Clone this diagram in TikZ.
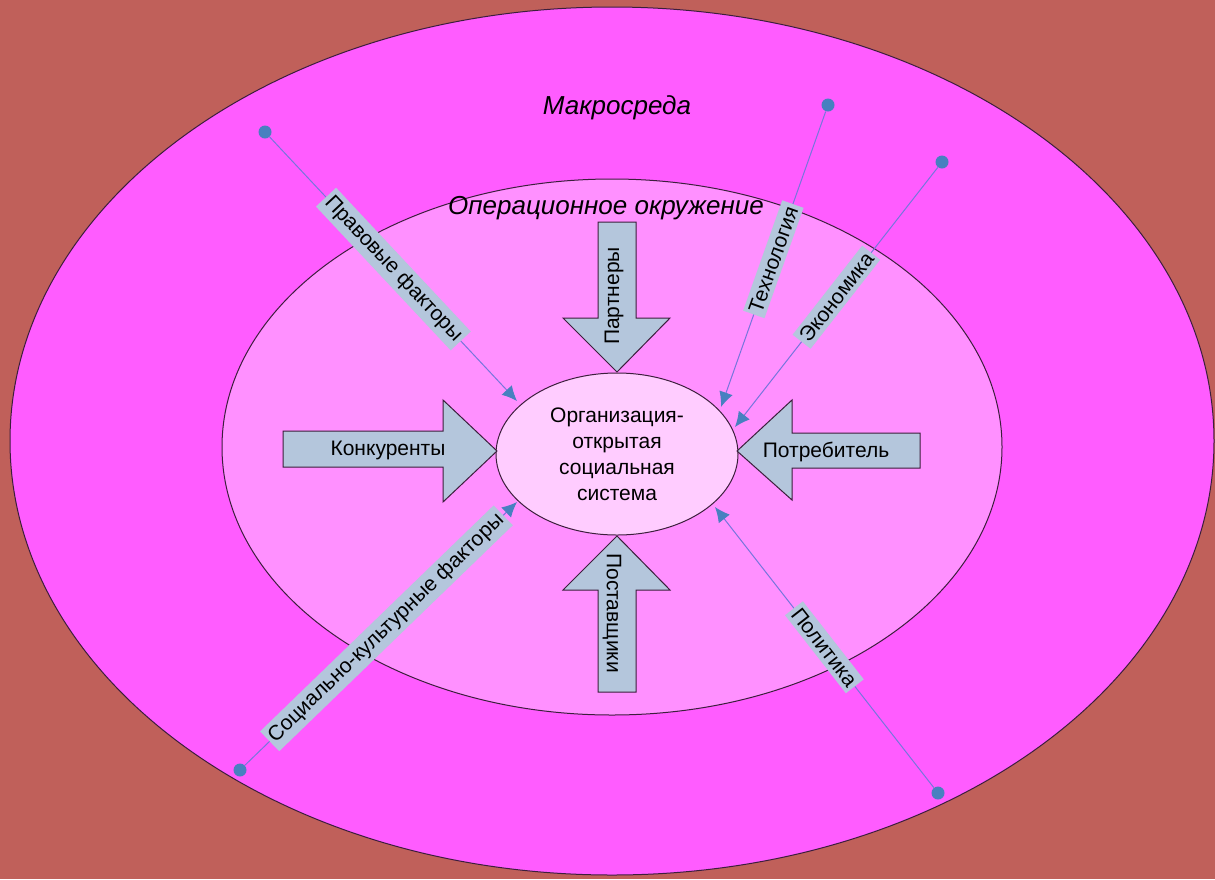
\documentclass[tikz,border=0pt]{standalone}
\usepackage{fontspec}
\setmainfont{Liberation Sans}
\usetikzlibrary{arrows.meta,shapes.geometric}
\definecolor{bgc}{RGB}{192,96,90}
\definecolor{outerc}{RGB}{255,92,255}
\definecolor{innerc}{RGB}{255,144,255}
\definecolor{orgc}{RGB}{255,204,255}
\definecolor{blockc}{RGB}{180,198,220}
\definecolor{dotc}{RGB}{72,128,192}
\definecolor{linec}{RGB}{118,118,220}
\definecolor{edgec}{RGB}{60,30,60}
\begin{document}
\begin{tikzpicture}[x=0.5pt,y=-0.5pt,
  zone/.style={draw=edgec,line width=0.5pt},
  blockarrow/.style={draw=edgec,line width=0.5pt,fill=blockc},
  blocktext/.style={font=\fontsize{10.5}{12}\selectfont,inner sep=0pt},
  title/.style={font=\fontsize{13}{15}\selectfont\itshape,inner sep=0pt},
  dotnode/.style={circle,fill=dotc,inner sep=0pt,minimum size=6.5pt},
  conn/.style={draw=linec,line width=0.5pt,
    arrows={-{Latex[length=7.5pt,width=7pt,color=dotc]}}},
  lbl/.style={fill=blockc,font=\fontsize{10.5}{12}\selectfont,inner xsep=1.5pt,inner ysep=2pt,sloped}]
\fill[bgc] (0,0) rectangle (1215,879);
\useasboundingbox (0,0) rectangle (1215,879);
% zones
\draw[zone,fill=outerc] (612,441) ellipse [x radius=301pt, y radius=217pt];
\draw[zone,fill=innerc] (612,447) ellipse [x radius=195pt, y radius=134pt];
\node[title] (macro) at (617,108) {Макросреда};
\node[title] (oper) at (606,208) {Операционное окружение};
% center
\node[ellipse,draw=edgec,line width=0.5pt,fill=orgc,minimum width=121pt,minimum height=81pt,inner sep=0pt,
  align=center,font=\fontsize{10.5}{13}\selectfont] (org) at (617,454)
  {Организация-\\открытая\\социальная\\система};
% block arrows
\draw[blockarrow] (598,222) -- (636,222) -- (636,318) -- (670,318) -- (617,372) -- (563,318) -- (598,318) -- cycle;
\node[blocktext,rotate=90] (partn) at (614,296) {Партнеры};
\draw[blockarrow] (598,692) -- (636,692) -- (636,590) -- (670,590) -- (617,536) -- (563,590) -- (598,590) -- cycle;
\node[blocktext,rotate=-90] (supp) at (612,613) {Поставщики};
\draw[blockarrow] (283,431) -- (443,431) -- (443,400) -- (497,451) -- (443,502) -- (443,467) -- (283,467) -- cycle;
\node[blocktext] (comp) at (388,450) {Конкуренты};
\draw[blockarrow] (920,433) -- (792,433) -- (792,400) -- (737,451) -- (792,500) -- (792,468) -- (920,468) -- cycle;
\node[blocktext] (cons) at (826,452) {Потребитель};
% factor connectors
\node[dotnode] (d1) at (265,132) {};
\node[dotnode] (d2) at (828,105) {};
\node[dotnode] (d3) at (942,162) {};
\node[dotnode] (d4) at (240,770) {};
\node[dotnode] (d5) at (938,793) {};
\coordinate (t1) at (517,401);
\coordinate (t2) at (721,407);
\coordinate (t3) at (735,427);
\coordinate (t4) at (517,502);
\coordinate (t5) at (715,507);
\draw[conn] (d1) -- node[lbl,pos=0.5] (l1) {Правовые факторы} (t1);
\draw[conn] (d2) -- node[lbl,pos=0.5] (l2) {Технология} (t2);
\draw[conn] (d3) -- node[lbl,pos=0.5] (l3) {Экономика} (t3);
\draw[conn] (d4) -- node[lbl,pos=0.52] (l4) {Социально-культурные факторы} (t4);
\draw[conn] (d5) -- node[lbl,pos=0.5] (l5) {Политика} (t5);
\end{tikzpicture}
\end{document}
